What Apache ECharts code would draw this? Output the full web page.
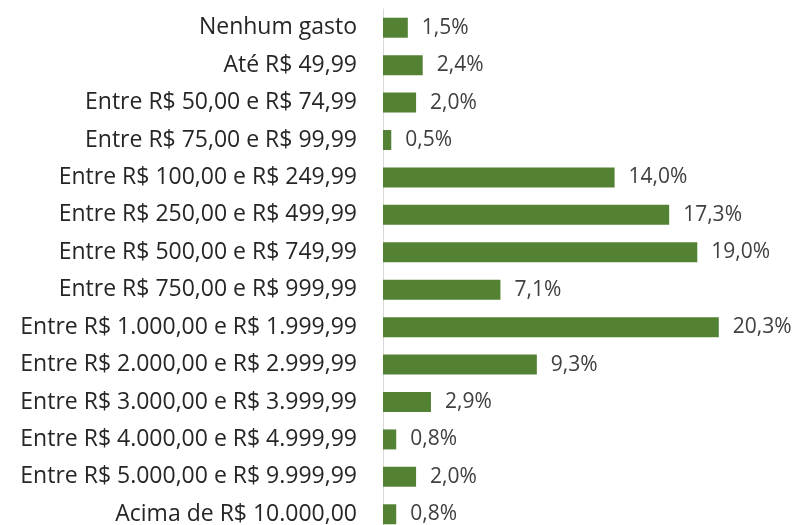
<!DOCTYPE html>
<html><head><meta charset="utf-8">
<script src="https://cdn.jsdelivr.net/npm/echarts@6/dist/echarts.min.js"></script>
<style>html,body{margin:0;padding:0;background:#fff;overflow:hidden;height:525px}#c{width:798px;height:545px}</style>
</head><body><div id="c"></div>
<script>
const categories = ["Nenhum gasto","Até R$ 49,99","Entre R$ 50,00 e R$ 74,99","Entre R$ 75,00 e R$ 99,99","Entre R$ 100,00 e R$ 249,99","Entre R$ 250,00 e R$ 499,99","Entre R$ 500,00 e R$ 749,99","Entre R$ 750,00 e R$ 999,99","Entre R$ 1.000,00 e R$ 1.999,99","Entre R$ 2.000,00 e R$ 2.999,99","Entre R$ 3.000,00 e R$ 3.999,99","Entre R$ 4.000,00 e R$ 4.999,99","Entre R$ 5.000,00 e R$ 9.999,99","Acima de R$ 10.000,00"];
const values = [1.5,2.4,2.0,0.5,14.0,17.3,19.0,7.1,20.3,9.3,2.9,0.8,2.0,0.8];
const chart = echarts.init(document.getElementById('c'));
chart.setOption({
  animation:false,
  grid:{left:383,width:397,top:9,height:524,containLabel:false},
  xAxis:{type:'value',min:0,max:24,show:false},
  yAxis:{type:'category',data:categories,inverse:true,
    axisLine:{show:true,lineStyle:{color:'#d9d9d9',width:1}},
    axisTick:{show:false},
    axisLabel:{margin:26,color:'#262626',fontFamily:'Open Sans',fontSize:23}},
  series:[{type:'bar',data:values,barWidth:20,
    itemStyle:{color:'#548235'},
    label:{show:true,position:'right',distance:14,color:'#404040',fontFamily:'Open Sans',fontSize:21,
      formatter:p=>p.value.toFixed(1).replace('.',',')+'%'}}]
});
</script></body></html>
